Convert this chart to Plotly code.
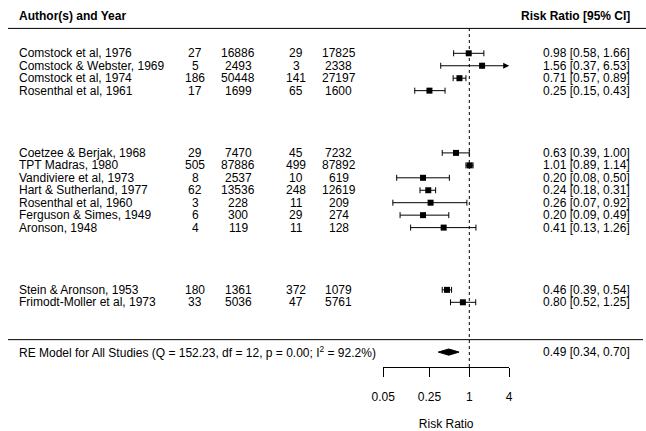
import math
import plotly.graph_objects as go

# ---------------- data ----------------
studies = ["Comstock et al, 1976", "Comstock & Webster, 1969", "Comstock et al, 1974",
           "Rosenthal et al, 1961",
           "Coetzee & Berjak, 1968", "TPT Madras, 1980", "Vandiviere et al, 1973",
           "Hart & Sutherland, 1977", "Rosenthal et al, 1960", "Ferguson & Simes, 1949",
           "Aronson, 1948",
           "Stein & Aronson, 1953", "Frimodt-Moller et al, 1973"]
rows = [23, 22, 21, 20, 15, 14, 13, 12, 11, 10, 9, 4, 3]
tpos = [27, 5, 186, 17, 29, 505, 8, 62, 3, 6, 4, 180, 33]
tneg = [16886, 2493, 50448, 1699, 7470, 87886, 2537, 13536, 228, 300, 119, 1361, 5036]
cpos = [29, 3, 141, 65, 45, 499, 10, 248, 11, 29, 11, 372, 47]
cneg = [17825, 2338, 27197, 1600, 7232, 87892, 619, 12619, 209, 274, 128, 1079, 5761]
est = [0.98, 1.56, 0.71, 0.25, 0.63, 1.01, 0.20, 0.24, 0.26, 0.20, 0.41, 0.46, 0.80]
lb = [0.58, 0.37, 0.57, 0.15, 0.39, 0.89, 0.08, 0.18, 0.07, 0.09, 0.13, 0.39, 0.52]
ub = [1.66, 6.53, 0.89, 0.43, 1.00, 1.14, 0.50, 0.31, 0.92, 0.49, 1.26, 0.54, 1.25]

re_row = -1
re_est, re_lb, re_ub = 0.49, 0.34, 0.70
re_label = "RE Model for All Studies (Q = 152.23, df = 12, p = 0.00; I<sup>2</sup> = 92.2%)"

tick_vals = [0.05, 0.25, 1, 4]
tick_text = ["0.05", "0.25", "1", "4"]
alim = (0.05, 4)
xlab = "Risk Ratio"
header_left = "Author(s) and Year"
header_right = "Risk Ratio [95% CI]"

# ---------------- geometry ----------------
W, H = 646, 431
X0PX = 469.3          # pixel of ratio 1
PX_PER_LN = 28.75
ROW3_PX = 302.3
PX_PER_ROW = 12.45

def xpaper(px):
    return px / W

x_range = [math.log10(math.exp(-X0PX / PX_PER_LN)),
           math.log10(math.exp((W - X0PX) / PX_PER_LN))]
y_range = [3 - (H - ROW3_PX) / PX_PER_ROW, 3 + ROW3_PX / PX_PER_ROW]
axis_row_px = 367
ax_dom = [(X0PX + PX_PER_LN * math.log(alim[0])) / W,
          (X0PX + PX_PER_LN * math.log(alim[1])) / W]
axis_row = 3 - (axis_row_px - ROW3_PX) / PX_PER_ROW

FONT = "Arial, Liberation Sans, sans-serif"

fig = go.Figure()

# invisible trace to activate the bottom axis (added first, drawn below)
fig.add_trace(go.Scatter(x=[1], y=[axis_row], xaxis="x2", yaxis="y",
                         mode="markers", marker=dict(opacity=0),
                         hoverinfo="skip", showlegend=False))

# CI error bars + squares
plus = [0 if u > alim[1] else u - e for e, u in zip(est, ub)]
minus = [e - l for e, l in zip(est, lb)]
fig.add_trace(go.Scatter(
    x=est, y=rows, mode="markers",
    marker=dict(symbol="square", size=6, color="black"),
    error_x=dict(type="data", symmetric=False, array=plus, arrayminus=minus,
                 color="black", thickness=1, width=3),
    hoverinfo="skip", showlegend=False, cliponaxis=False))

annotations = []
# arrows for truncated CIs
for e, u, r in zip(est, ub, rows):
    if u > alim[1]:
        annotations.append(dict(x=math.log10(alim[1]), y=r, ax=math.log10(e), ay=r,
                                xref="x", yref="y", axref="x", ayref="y",
                                showarrow=True, arrowhead=2, arrowsize=1.2,
                                arrowwidth=1, arrowcolor="black", text=""))

# summary diamond
h = 0.25
fig.add_trace(go.Scatter(
    x=[re_lb, re_est, re_ub, re_est, re_lb],
    y=[re_row, re_row + h, re_row, re_row - h, re_row],
    mode="lines", fill="toself", fillcolor="black",
    line=dict(color="black", width=1), hoverinfo="skip", showlegend=False))

def txt(xpx, row, s, anchor="left", bold=False):
    annotations.append(dict(x=xpaper(xpx), y=row, xref="paper", yref="y",
                            text=f"<b>{s}</b>" if bold else s, showarrow=False,
                            xanchor=anchor, yanchor="middle",
                            font=dict(family=FONT, size=12, color="black")))

txt(17, 26, header_left, bold=True)
txt(632, 26, header_right, anchor="right", bold=True)

for i, r in enumerate(rows):
    txt(17, r, studies[i])
    txt(195, r, str(tpos[i]), anchor="center")
    txt(238, r, str(tneg[i]), anchor="center")
    txt(296, r, str(cpos[i]), anchor="center")
    txt(339, r, str(cneg[i]), anchor="center")
    txt(632, r, f"{est[i]:.2f} [{lb[i]:.2f}, {ub[i]:.2f}]", anchor="right")

txt(17, re_row, re_label)
txt(632, re_row, f"{re_est:.2f} [{re_lb:.2f}, {re_ub:.2f}]", anchor="right")

shapes = [
    dict(type="line", xref="paper", yref="y", x0=8 / W, x1=1, y0=25, y1=25,
         line=dict(color="black", width=1)),
    dict(type="line", xref="paper", yref="y", x0=8 / W, x1=643 / W, y0=0, y1=0,
         line=dict(color="black", width=1)),
    dict(type="line", xref="x", yref="y", x0=1, x1=1, y0=axis_row, y1=25,
         line=dict(color="black", width=1, dash="dot")),
]

fig.update_layout(
    width=W, height=H, margin=dict(l=0, r=0, t=0, b=0, autoexpand=False),
    paper_bgcolor="white", plot_bgcolor="rgba(0,0,0,0)",
    font=dict(family=FONT, size=12, color="black"),
    xaxis=dict(type="log", range=x_range, visible=False, domain=[0, 1],
               automargin=False),
    yaxis=dict(range=y_range, visible=False, domain=[0, 1], automargin=False),
    xaxis2=dict(type="log", range=[math.log10(alim[0]), math.log10(alim[1])],
                domain=ax_dom, anchor="free", position=1 - axis_row_px / H,
                tickvals=tick_vals, ticktext=tick_text, ticks="outside",
                ticklen=9, tickwidth=1, tickcolor="black",
                showline=True, linecolor="black", linewidth=1,
                showgrid=False, zeroline=False, ticklabelstandoff=10,
                automargin=False,
                tickfont=dict(family=FONT, size=12, color="black"),
                title=dict(text=xlab, standoff=18,
                           font=dict(family=FONT, size=12, color="black"))),
    shapes=shapes, annotations=annotations, showlegend=False,
)

fig.write_html("out.html",
               config={"displayModeBar": False},
               post_script="document.body.style.margin='0';"
                           "document.body.style.overflow='hidden';")
